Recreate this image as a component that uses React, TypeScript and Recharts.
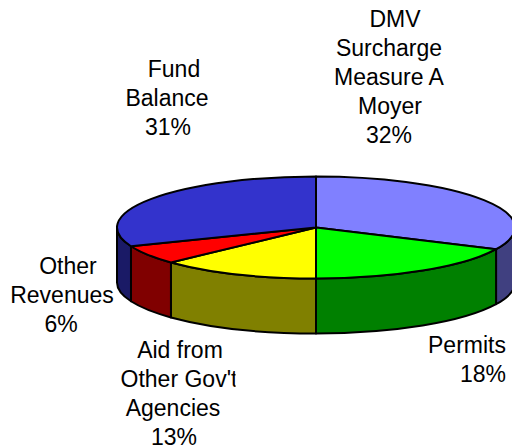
import React from 'react'
import { PieChart, Pie } from 'recharts'

const names = ['DMV Surcharge Measure A Moyer', 'Permits', "Aid from Other Gov't Agencies", 'Other Revenues', 'Fund Balance']
const shares = [32, 18, 13, 6, 31]
const topColors = ['#8080ff', '#00ff00', '#ffff00', '#ff0000', '#3333cc']
const wallColors = ['#404080', '#008000', '#808000', '#800000', '#1a1a66']

const labelLines = [
  ['DMV', 'Surcharge', 'Measure A', 'Moyer', '32%'],
  ['Permits', '18%'],
  ['Aid from', "Other Gov't", 'Agencies', '13%'],
  ['Other', 'Revenues', '6%'],
  ['Fund', 'Balance', '31%'],
]
// centre x and baseline y of each text line
const labelX = [
  [395, 389, 389, 390, 389],
  [467, 483],
  [180, 179, 173, 174],
  [68, 62, 61],
  [174, 167, 168],
]
const labelY = [
  [27, 56, 85, 114, 143],
  [353, 382],
  [358, 387, 416, 445],
  [274, 303, 332],
  [77, 106, 135],
]

const data = names.map((name, i) => ({ name, value: shares[i], fill: topColors[i], wall: wallColors[i] }))

const SQUASH = 51 / 199
const DEPTH = 55

function PieSlice(props: any) {
  const { cx, cy, outerRadius: r, startAngle, endAngle, fill, payload, index } = props
  const ry = r * SQUASH
  const pt = (deg: number, dy = 0) => {
    const a = (deg * Math.PI) / 180
    return `${cx + r * Math.cos(a)} ${cy - ry * Math.sin(a) + dy}`
  }
  const large = Math.abs(startAngle - endAngle) > 180 ? 1 : 0
  const hi = Math.min(startAngle, 0)
  const lo = Math.max(endAngle, -180)
  const wallColor = payload?.wall ?? wallColors[index]
  return (
    <g>
      {hi > lo && (
        <path
          d={`M ${pt(hi)} A ${r} ${ry} 0 0 1 ${pt(lo)} L ${pt(lo, DEPTH)} A ${r} ${ry} 0 0 0 ${pt(hi, DEPTH)} Z`}
          fill={wallColor}
          stroke="#000"
          strokeWidth={2}
          strokeLinejoin="round"
        />
      )}
      <path
        d={`M ${cx} ${cy} L ${pt(startAngle)} A ${r} ${ry} 0 ${large} 1 ${pt(endAngle)} Z`}
        fill={fill}
        stroke="#000"
        strokeWidth={2}
        strokeLinejoin="round"
      />
    </g>
  )
}

function SliceLabel({ index }: any) {
  return (
    <g>
      <clipPath id="govClip">
        <rect x={0} y={360} width={235.5} height={40} />
      </clipPath>
      {labelLines[index].map((line, i) => (
        <text
          key={line}
          x={labelX[index][i]}
          y={labelY[index][i]}
          textAnchor="middle"
          fontFamily="Liberation Sans"
          fontSize={23}
          fill="#000"
          clipPath={line.includes('Gov') ? 'url(#govClip)' : undefined}
        >
          {line}
        </text>
      ))}
    </g>
  )
}

export default function App() {
  return (
    <div style={{ position: 'absolute', left: 0, top: 0, width: 512, height: 448, background: '#fff', overflow: 'hidden' }}>
      <PieChart width={512} height={448} margin={{ top: 0, right: 0, bottom: 0, left: 0 }}>
        <Pie
          data={data}
          dataKey="value"
          cx={316}
          cy={227.5}
          innerRadius={0}
          outerRadius={199}
          startAngle={90}
          endAngle={-270}
          paddingAngle={0}
          shape={PieSlice}
          label={SliceLabel}
          labelLine={false}
          isAnimationActive={false}
        />
      </PieChart>
    </div>
  )
}
